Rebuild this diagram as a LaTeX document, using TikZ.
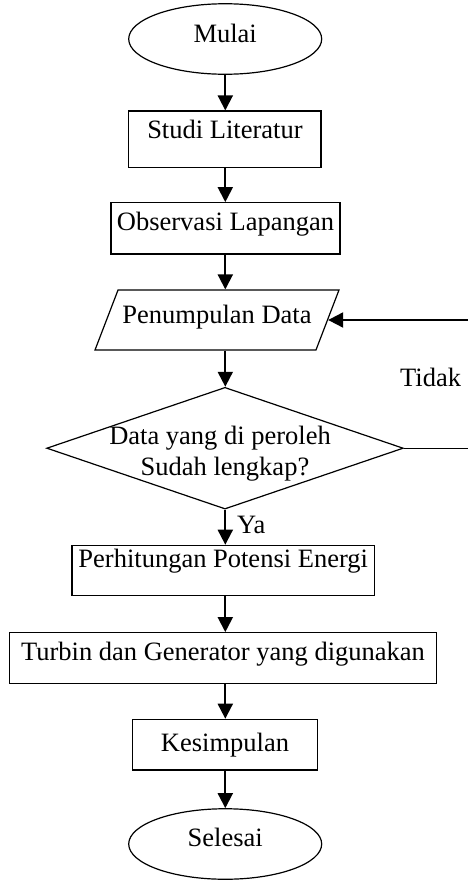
\documentclass[tikz,border=0pt]{standalone}
\usepackage{fontspec}
\setmainfont{Liberation Serif}
\usetikzlibrary{shapes.geometric,arrows.meta}
\begin{document}
\begin{tikzpicture}[x=1pt,y=-1pt,
  every node/.style={font=\fontsize{26.5}{31}\selectfont, inner sep=0pt},
  boxline/.style={draw, line width=1.2pt},
  procbox/.style={boxline, rectangle},
  termbox/.style={boxline, ellipse, minimum width=193pt, minimum height=70.5pt},
  arr/.style={line width=2pt, -{Triangle[length=15pt,width=15pt]}},
  thinline/.style={line width=1.2pt},
]
\useasboundingbox (0,0) rectangle (467,881);

\node[termbox, text height=12pt, text depth=6pt] (mulai) at (225.2,39) {Mulai};
\node[procbox, minimum width=192.3pt, text height=27pt, text depth=29.7pt] (studi) at (224.9,139.35) {Studi Literatur};
\node[procbox, minimum width=229pt, text height=27.3pt, text depth=24pt] (obs) at (225.5,228.35) {Observasi Lapangan};
\node[boxline, trapezium, trapezium left angle=69, trapezium right angle=111, trapezium stretches body,
      minimum width=244pt, minimum height=60pt, text height=33pt, text depth=27pt] (pd) at (217,320) {Penumpulan Data};
\node[boxline, diamond, minimum width=356.6pt, minimum height=121.7pt] (dia) at (225,448.2) {};
\node[anchor=base] (q1) at (220,444) {Data yang di peroleh};
\node[anchor=base] (q2) at (225,475) {Sudah lengkap?};
\node[procbox, minimum width=302.3pt, text height=21.7pt, text depth=28.7pt] (perh) at (223.2,570.5) {Perhitungan Potensi Energi};
\node[procbox, minimum width=427.4pt, text height=27.3pt, text depth=23.3pt] (turb) at (223,658) {Turbin dan Generator yang digunakan};
\node[procbox, minimum width=184.6pt, text height=32.4pt, text depth=18.3pt] (kes) at (225,744.65) {Kesimpulan};
\node[termbox, text height=11.4pt, text depth=6pt] (sel) at (225.2,844) {Selesai};

\node[anchor=base west] (tidak) at (400,386.7) {Tidak};
\node[anchor=base west] (ya) at (237,533) {Ya};

\coordinate (col) at (225.3,0);
\draw[arr] (col |- mulai.south) -- (col |- studi.north);
\draw[arr] (col |- studi.south) -- (col |- obs.north);
\draw[arr] (col |- obs.south) -- (col |- pd.north);
\draw[arr] (col |- pd.south) -- (col |- dia.north);
\draw[arr] (col |- dia.south) -- (col |- perh.north);
\draw[arr] (col |- perh.south) -- (col |- turb.north);
\draw[arr] (col |- turb.south) -- (col |- kes.north);
\draw[arr] (col |- kes.south) -- (col |- sel.north);

\draw[thinline] (dia.east) -- ++(66,0) coordinate (fb);
\draw[arr] (fb) |- (pd.east);
\end{tikzpicture}
\end{document}
